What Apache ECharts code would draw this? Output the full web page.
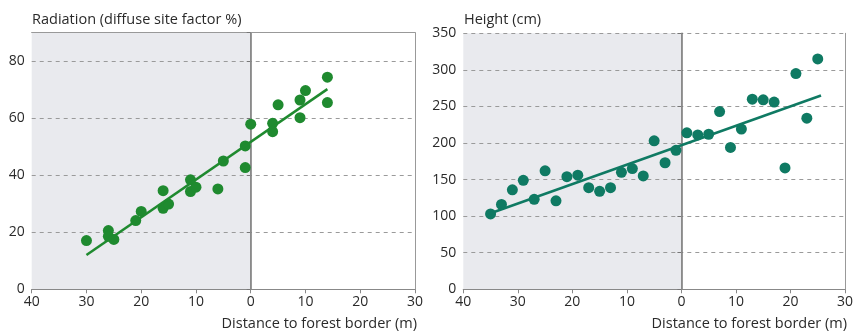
<!DOCTYPE html>
<html><head><meta charset="utf-8">
<script src="https://cdn.jsdelivr.net/npm/echarts@6/dist/echarts.min.js"></script>
<style>html,body{margin:0;padding:0;background:#fff}#c{width:856px;height:333px}</style>
</head><body><div id="c"></div>
<script>
// Left panel: radiation (diffuse site factor %) vs distance to forest border (m; negative = inside stand)
const radDist = [-30,-26,-26,-25,-21,-20,-16,-16,-15,-11,-11,-10,-6,-5,-1,-1,0,4,4,5,9,9,10,14,14];
const radVal  = [17.1,20.6,18.6,17.5,24.1,27.3,34.6,28.4,29.9,38.4,34.3,35.8,35.2,45.0,50.3,42.7,57.9,58.2,55.3,64.7,66.4,60.2,69.7,74.4,65.5];
const radTrend = [[-30,12.0],[14,70.2]];
// Right panel: height (cm)
const hDist = [-35,-33,-31,-29,-27,-25,-23,-21,-19,-17,-15,-13,-11,-9,-7,-5,-3,-1,1,3,5,7,9,11,13,15,17,19,21,23,25];
const hVal  = [103,116,136,149,123,162,121,154,156,139,134,139,160,165,155,203,173,190,214,211,212,243,194,219,260,259,256,166,295,234,315];
const hTrend = [[-35,104],[25.6,265]];
const xTicks = [-40,-30,-20,-10,0,10,20,30];
const standLabel = 'Stand';

const green = '#1f8a2f', teal = '#0f7a63';
const font = '"Open Sans", "Noto Sans", sans-serif';
const tx = {color:'#2a2a2a', fontSize:14, fontFamily:font};

function xAx(gi){
  return {type:'value', gridIndex:gi, min:xTicks[0], max:xTicks[xTicks.length-1], interval:10, z:2,
    axisLine:{show:true, onZero:false, lineStyle:{color:'#888', width:1.2}},
    axisTick:{show:true, length:4, lineStyle:{color:'#888'}},
    axisLabel:Object.assign({margin:6, formatter:v=>String(Math.abs(v))}, tx),
    splitLine:{show:false}};
}
function yAx(gi, max, interval){
  return {type:'value', gridIndex:gi, min:0, max:max, interval:interval, z:2,
    axisLine:{show:true, lineStyle:{color:'#777', width:1.5}},
    axisTick:{show:true, length:4, lineStyle:{color:'#777'}},
    axisLabel:Object.assign({margin:7, formatter:v=>(v%interval===0?String(v):'')}, tx),
    splitLine:{show:true, lineStyle:{color:'#9a9a9a', type:[4,4], width:1}}};
}
function frame(gi, type){
  return {type:'value', gridIndex:gi, position:type==='x'?'top':'right', min:0, max:1, z:2,
    axisLine:{show:true, onZero:false, lineStyle:{color:'#999', width:1}},
    axisTick:{show:false}, axisLabel:{show:false}, splitLine:{show:false}};
}
function bg(gi){
  return {type:'line', xAxisIndex:gi, yAxisIndex:gi, data:[], z:1, silent:true,
    markArea:{silent:true, z:1, itemStyle:{color:'#e9eaee'},
      label:{show:true, position:'insideBottomLeft', color:'#9a9a9a', fontSize:15.5, fontFamily:font, distance:[6,6]},
      data:[[{name:standLabel, xAxis:xTicks[0]},{xAxis:0}]]},
    markLine:{silent:true, z:3, symbol:['none','none'], label:{show:false},
      lineStyle:{color:'#8a8a8a', type:'solid', width:1}, data:[{xAxis:0}]}};
}
const ttl = {color:'#2a2a2a', fontSize:14.5, fontWeight:'normal', fontFamily:font};
const chart = echarts.init(document.getElementById('c'), null, {renderer:'canvas'});
chart.setOption({
  animation:false,
  title:[
    {text:'Radiation (diffuse site factor %)', left:27, top:7, textStyle:ttl},
    {text:'Height (cm)', left:459, top:7, textStyle:ttl},
    {text:'Distance to forest border (m)', right:434, top:311, textStyle:ttl},
    {text:'Distance to forest border (m)', right:4, top:311, textStyle:ttl}
  ],
  grid:[
    {left:31.7, right:441, top:32.7, bottom:43.7},
    {left:463.3, right:9.3, top:33.3, bottom:43.7}
  ],
  xAxis:[xAx(0), xAx(1), frame(0,'x')],
  yAxis:[yAx(0,90,20), yAx(1,350,50), frame(0,'y'), frame(1,'y')],
  series:[
    bg(0), bg(1),
    {type:'scatter', xAxisIndex:0, yAxisIndex:0, symbolSize:11, itemStyle:{color:green, opacity:1},
      data:radDist.map((d,i)=>[d,radVal[i]]), z:4},
    {type:'line', xAxisIndex:0, yAxisIndex:0, data:radTrend, symbol:'none', lineStyle:{color:green, width:2.5}, z:5},
    {type:'scatter', xAxisIndex:1, yAxisIndex:1, symbolSize:11, itemStyle:{color:teal, opacity:1},
      data:hDist.map((d,i)=>[d,hVal[i]]), z:4},
    {type:'line', xAxisIndex:1, yAxisIndex:1, data:hTrend, symbol:'none', lineStyle:{color:teal, width:2.5}, z:5}
  ]
});
</script></body></html>
